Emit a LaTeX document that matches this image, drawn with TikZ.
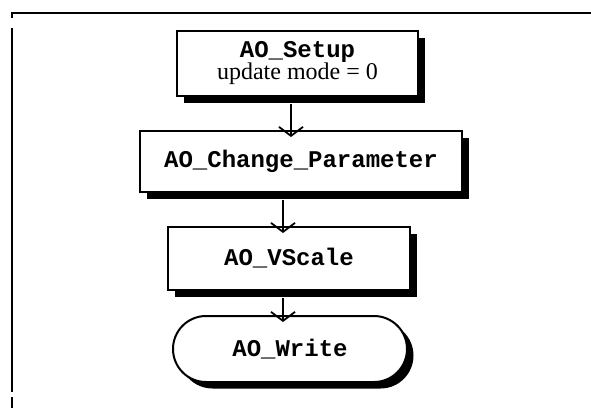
\documentclass[tikz,border=0pt]{standalone}
\usepackage{fontspec}
\setmainfont{Liberation Serif}
\setmonofont{Liberation Mono}
\usetikzlibrary{shapes.misc,shadows,arrows.meta}
\tikzset{
  stepbox/.style={draw=black, line width=2pt, fill=white, inner sep=0pt,
    drop shadow={opacity=1, shadow xshift=6.5pt, shadow yshift=-6.5pt, fill=black},
    font=\fontsize{24}{22}\selectfont, align=center},
  termbox/.style={stepbox, rounded rectangle},
  arr/.style={line width=1.6pt, -{Straight Barb[length=9pt,width=24pt,line width=1.8pt]}},
  frameline/.style={line width=2.2pt}
}
\begin{document}
\begin{tikzpicture}[x=1pt,y=-1pt]
\useasboundingbox (0,0) rectangle (591,408);
% frame
\draw[frameline] (11,13) -- (591,13);
\draw[frameline] (12,12) -- (12,18);
\draw[frameline] (12,28) -- (12,392);
\draw[frameline] (12,397) -- (12,408);
% nodes
\node[stepbox, minimum width=241pt, minimum height=65pt] (setup) at (297.5,63.5)
  {\ttfamily\bfseries AO\_Setup\\update mode = 0};
\node[stepbox, minimum width=322pt, minimum height=61pt] (change) at (301,161.5)
  {\ttfamily\bfseries AO\_Change\_Parameter};
\node[stepbox, minimum width=242pt, minimum height=63pt] (vscale) at (289,258.5)
  {\ttfamily\bfseries AO\_VScale};
\node[termbox, minimum width=234pt, minimum height=66pt] (write) at (290,349)
  {\ttfamily\bfseries AO\_Write};
% connectors
\draw[arr] ([xshift=-6.5pt,yshift=-7pt]setup.south) -- ([xshift=-6.5pt,yshift=-7pt]setup.south |- change.north);
\draw[arr] ([xshift=-18pt,yshift=-7pt]change.south) -- ([xshift=-18pt,yshift=-7pt]change.south |- vscale.north);
\draw[arr] ([xshift=-6pt,yshift=-7pt]vscale.south) -- ([xshift=-6pt,yshift=-7pt]vscale.south |- write.north);
\end{tikzpicture}
\end{document}
